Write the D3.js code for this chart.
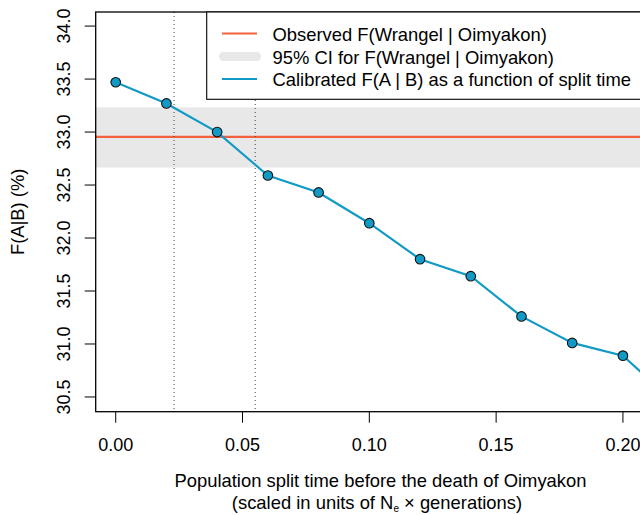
<!DOCTYPE html>
<html>
<head>
<meta charset="utf-8">
<script src="https://cdn.jsdelivr.net/npm/d3@7"></script>
<style>
  html, body { margin: 0; padding: 0; background: #fff; }
  svg { display: block; font-family: "Liberation Sans", Arial, Helvetica, sans-serif; }
</style>
</head>
<body>
<svg id="chart" width="640" height="515"></svg>
<script>
// ---- data ----
const splitTimes = [0.00, 0.02, 0.04, 0.06, 0.08, 0.10, 0.12, 0.14, 0.16, 0.18, 0.20, 0.22];
const calibratedF = [33.47, 33.27, 33.00, 32.59, 32.43, 32.14, 31.80, 31.64, 31.26, 31.01, 30.89, 30.45];
const observedF = 32.955;
const ciLower = 32.665;
const ciUpper = 33.233;
const dottedLines = [0.023, 0.055];
const xTicks = [0.00, 0.05, 0.10, 0.15, 0.20];
const yTicks = [30.5, 31.0, 31.5, 32.0, 32.5, 33.0, 33.5, 34.0];
const legendLabels = [
  "Observed F(Wrangel | Oimyakon)",
  "95% CI for F(Wrangel | Oimyakon)",
  "Calibrated F(A | B) as a function of split time"
];

// ---- layout ----
const pL = 95.7, pR = 666.3, pT = 12, pB = 411.7;
const colRed = "#F4603E", colBlue = "#129AC6", colBand = "#E8E8E8";
const fs = 18, fsT = 18.4;

const svg = d3.select("#chart");
const x = d3.scaleLinear().domain([-0.00789, 0.2171]).range([pL, pR]);
const y = d3.scaleLinear().domain([30.361, 34.133]).range([pB, pT]);

svg.append("defs").append("clipPath").attr("id", "plotclip")
  .append("rect").attr("x", pL).attr("y", pT).attr("width", pR - pL).attr("height", pB - pT);

const plot = svg.append("g").attr("clip-path", "url(#plotclip)");

// CI band
plot.append("rect")
  .attr("x", pL).attr("width", pR - pL)
  .attr("y", y(ciUpper)).attr("height", y(ciLower) - y(ciUpper))
  .attr("fill", colBand);

// observed line
plot.append("line")
  .attr("x1", pL).attr("x2", pR)
  .attr("y1", y(observedF)).attr("y2", y(observedF))
  .attr("stroke", colRed).attr("stroke-width", 2.2);

// dotted verticals
plot.selectAll(".vdot").data(dottedLines).enter().append("line")
  .attr("x1", d => x(d)).attr("x2", d => x(d))
  .attr("y1", pT).attr("y2", pB)
  .attr("stroke", "#444").attr("stroke-width", 1)
  .attr("stroke-dasharray", "1,3");

// calibrated line
const pts = splitTimes.map((t, i) => [t, calibratedF[i]]);
plot.append("path")
  .attr("d", d3.line().x(d => x(d[0])).y(d => y(d[1]))(pts))
  .attr("fill", "none").attr("stroke", colBlue).attr("stroke-width", 2.2);

plot.selectAll(".pt").data(pts).enter().append("circle")
  .attr("cx", d => x(d[0])).attr("cy", d => y(d[1]))
  .attr("r", 4.8)
  .attr("fill", colBlue).attr("stroke", "#111").attr("stroke-width", 1.1);

// frame
svg.append("rect")
  .attr("x", pL).attr("y", pT).attr("width", pR - pL).attr("height", pB - pT)
  .attr("fill", "none").attr("stroke", "#000").attr("stroke-width", 1.3);

// x axis
const xAxis = svg.append("g");
xAxis.selectAll("line").data(xTicks).enter().append("line")
  .attr("x1", d => x(d)).attr("x2", d => x(d))
  .attr("y1", pB).attr("y2", pB + 11)
  .attr("stroke", "#000").attr("stroke-width", 1);
xAxis.selectAll("text").data(xTicks).enter().append("text")
  .attr("x", d => x(d)).attr("y", 451)
  .attr("text-anchor", "middle").attr("font-size", fs).attr("fill", "#000")
  .text(d => d3.format(".2f")(d));

// y axis
const yAxis = svg.append("g");
yAxis.selectAll("line").data(yTicks).enter().append("line")
  .attr("x1", pL - 11).attr("x2", pL)
  .attr("y1", d => y(d)).attr("y2", d => y(d))
  .attr("stroke", "#000").attr("stroke-width", 1);
yAxis.selectAll("text").data(yTicks).enter().append("text")
  .attr("transform", d => `translate(70,${y(d)}) rotate(-90)`)
  .attr("text-anchor", "middle").attr("font-size", fs).attr("fill", "#000")
  .text(d => d3.format(".1f")(d));

// axis titles
svg.append("text")
  .attr("transform", `translate(24,${(pT + pB) / 2}) rotate(-90)`)
  .attr("text-anchor", "middle").attr("font-size", fsT).attr("fill", "#000")
  .text("F(A|B) (%)");

svg.append("text")
  .attr("x", (pL + pR) / 2 - 0.5).attr("y", 487)
  .attr("text-anchor", "middle").attr("font-size", fsT).attr("fill", "#000")
  .text("Population split time before the death of Oimyakon");

const t2 = svg.append("text")
  .attr("x", (pL + pR) / 2 - 4).attr("y", 508.5)
  .attr("text-anchor", "middle").attr("font-size", fsT).attr("fill", "#000");
t2.append("tspan").text("(scaled in units of N");
t2.append("tspan").attr("font-size", 10).attr("dy", 3).text("e");
t2.append("tspan").attr("dy", -3).text(" \u00D7 generations)");

// legend
const lg = svg.append("g");
lg.append("rect")
  .attr("x", 206.7).attr("y", pT).attr("width", 500).attr("height", 99.3 - pT)
  .attr("fill", "#fff").attr("stroke", "#000").attr("stroke-width", 1.1);
const rowsY = [33.5, 56.5, 79];
lg.append("line").attr("x1", 222).attr("x2", 257).attr("y1", rowsY[0]).attr("y2", rowsY[0])
  .attr("stroke", colRed).attr("stroke-width", 2.2);
lg.append("line").attr("x1", 223.5).attr("x2", 256.5).attr("y1", rowsY[1]).attr("y2", rowsY[1])
  .attr("stroke", colBand).attr("stroke-width", 9).attr("stroke-linecap", "round");
lg.append("line").attr("x1", 222).attr("x2", 257).attr("y1", rowsY[2]).attr("y2", rowsY[2])
  .attr("stroke", colBlue).attr("stroke-width", 2.2);
lg.selectAll("text").data(legendLabels).enter().append("text")
  .attr("x", 272.5).attr("y", (d, i) => rowsY[i] + 7)
  .attr("font-size", fsT).attr("fill", "#000")
  .text(d => d);
</script>
</body>
</html>
